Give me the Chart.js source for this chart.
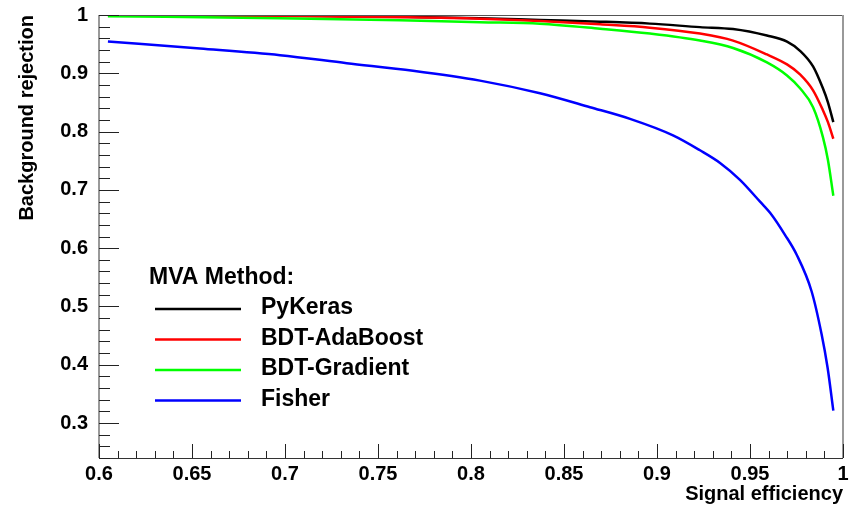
<!DOCTYPE html>
<html>
<head>
<meta charset="utf-8">
<title>ROC curves</title>
<script src="https://cdn.jsdelivr.net/npm/chart.js@4.4.1/dist/chart.umd.min.js"></script>
<style>
  html, body { margin: 0; padding: 0; background: #fff; }
  #wrap { width: 856px; height: 506px; position: relative; }
</style>
</head>
<body>
<div id="wrap"><canvas id="rocChart"></canvas></div>
<script>
// Signal efficiency points shared by the three upper curves
const rocEff = [0.6048, 0.6973, 0.7618, 0.8048, 0.8371, 0.8694, 0.8962, 0.9231, 0.9409, 0.9591, 0.9699, 0.9769, 0.9839, 0.9892, 0.9919, 0.9948];
const pyKerasRej = [0.9997, 0.9991, 0.9970, 0.9945, 0.9915, 0.9886, 0.9852, 0.9792, 0.9758, 0.9647, 0.9544, 0.9386, 0.9118, 0.8742, 0.8503, 0.8162];
const adaBoostRej = [0.9997, 0.9983, 0.9962, 0.9937, 0.9898, 0.9840, 0.9783, 0.9681, 0.9561, 0.9323, 0.9152, 0.8981, 0.8708, 0.8367, 0.8162, 0.7877];
const gradientRej = [0.9980, 0.9945, 0.9911, 0.9877, 0.9852, 0.9766, 0.9681, 0.9561, 0.9433, 0.9186, 0.8962, 0.8742, 0.8418, 0.7906, 0.7514, 0.6899];

// Fisher needs more points, it bends much earlier
const fisherEff = [0.6048, 0.6543, 0.6973, 0.7332, 0.7688, 0.8048, 0.8371, 0.8640, 0.8855, 0.9086, 0.9231, 0.9339, 0.9446, 0.9554, 0.9617, 0.9688, 0.9751, 0.9831, 0.9885, 0.9917, 0.9948];
const fisherRej = [0.9544, 0.9425, 0.9311, 0.9174, 0.9044, 0.8874, 0.8657, 0.8418, 0.8218, 0.7935, 0.7679, 0.7462, 0.7172, 0.6797, 0.6570, 0.6229, 0.5887, 0.5261, 0.4522, 0.3952, 0.3213];

const methodNames = ['PyKeras', 'BDT-AdaBoost', 'BDT-Gradient', 'Fisher'];
const methodColors = ['#000000', '#ff0000', '#00ff00', '#0000ff'];

// axis ranges and tick steps
const xRange = [0.6, 1.0];
const yRange = [0.24, 1.0];
const xMajorStep = 0.05, xMinorStep = 0.01;
const yMajorStep = 0.1, yMinorStep = 0.02;

const FONT = '"Liberation Sans", Arial, Helvetica, sans-serif';
Chart.defaults.font.family = FONT;
Chart.defaults.color = '#000';

const toPoints = (xs, ys) => xs.map((x, i) => ({ x: x, y: ys[i] }));
const trimNum = v => String(+v.toFixed(3));

// ROOT style frame: box around the pad and tick marks pointing inwards
const rootFrame = {
    id: 'rootFrame',
    afterDatasetsDraw(chart) {
        const { ctx, chartArea: a, scales: { x, y } } = chart;
        ctx.save();

        // top + right border
        ctx.strokeStyle = '#555';
        ctx.lineWidth = 1;
        ctx.beginPath();
        ctx.moveTo(a.left, a.top + 0.5);
        ctx.lineTo(a.right, a.top + 0.5);
        ctx.stroke();
        ctx.strokeStyle = '#999';
        ctx.lineWidth = 2;
        ctx.beginPath();
        ctx.moveTo(a.right, a.top);
        ctx.lineTo(a.right, a.bottom);
        ctx.stroke();

        // left axis
        ctx.strokeStyle = '#777';
        ctx.lineWidth = 1.5;
        ctx.beginPath();
        ctx.moveTo(a.left, a.top);
        ctx.lineTo(a.left, a.bottom);
        ctx.stroke();

        // bottom axis
        ctx.strokeStyle = '#333';
        ctx.lineWidth = 1;
        ctx.beginPath();
        ctx.moveTo(a.left, Math.round(a.bottom) + 0.5);
        ctx.lineTo(a.right, Math.round(a.bottom) + 0.5);
        ctx.stroke();

        ctx.strokeStyle = '#222';
        ctx.lineWidth = 1;
        const nx = Math.round((xRange[1] - xRange[0]) / xMinorStep);
        const perMajorX = Math.round(xMajorStep / xMinorStep);
        for (let i = 0; i <= nx; i++) {
            const px = Math.round(x.getPixelForValue(xRange[0] + i * xMinorStep)) + 0.5;
            const len = i % perMajorX === 0 ? 14 : 7;
            ctx.beginPath();
            ctx.moveTo(px, a.bottom);
            ctx.lineTo(px, a.bottom - len);
            ctx.stroke();
        }
        const ny = Math.round((yRange[1] - yRange[0]) / yMinorStep);
        for (let i = 0; i <= ny; i++) {
            const v = yRange[0] + i * yMinorStep;
            const py = Math.round(y.getPixelForValue(v)) + 0.5;
            const major = Math.round(v * 100) % 10 === 0;
            ctx.beginPath();
            ctx.moveTo(a.left, py);
            ctx.lineTo(a.left + (major ? 20 : 11), py);
            ctx.stroke();
        }
        ctx.restore();
    }
};

// legend box "MVA Method:" inside the pad
const methodLegend = {
    id: 'methodLegend',
    afterDraw(chart, args, opts) {
        const { ctx } = chart;
        ctx.save();
        ctx.fillStyle = '#000';
        ctx.textBaseline = 'middle';
        ctx.textAlign = 'left';
        ctx.font = 'bold 23px ' + FONT;
        ctx.fillText(opts.header, opts.left, opts.top);
        chart.data.datasets.forEach((ds, i) => {
            const rowY = opts.firstRow + i * opts.rowStep;
            ctx.strokeStyle = ds.borderColor;
            ctx.lineWidth = 2.5;
            ctx.beginPath();
            ctx.moveTo(opts.lineFrom, rowY);
            ctx.lineTo(opts.lineTo, rowY);
            ctx.stroke();
            ctx.fillText(ds.label, opts.textX, rowY - 1);
        });
        ctx.restore();
    }
};

const seriesRej = [pyKerasRej, adaBoostRej, gradientRej, fisherRej];
const seriesEff = [rocEff, rocEff, rocEff, fisherEff];

new Chart(document.getElementById('rocChart'), {
    type: 'line',
    data: {
        datasets: methodNames.map((name, i) => ({
            label: name,
            data: toPoints(seriesEff[i], seriesRej[i]),
            borderColor: methodColors[i],
            borderWidth: 2.5,
            pointRadius: 0,
            cubicInterpolationMode: 'monotone',
            order: methodNames.length - i
        }))
    },
    options: {
        responsive: true,
        maintainAspectRatio: false,
        animation: false,
        events: [],
        layout: { padding: { top: 2, right: 13, left: 0, bottom: 0 } },
        plugins: {
            legend: { display: false },
            tooltip: { enabled: false },
            methodLegend: {
                header: 'MVA Method:', left: 149, top: 278,
                firstRow: 309, rowStep: 30.5,
                lineFrom: 155, lineTo: 241, textX: 261
            }
        },
        scales: {
            x: {
                type: 'linear',
                min: xRange[0], max: xRange[1],
                grid: { display: false },
                border: { display: false },
                ticks: {
                    stepSize: xMajorStep,
                    padding: -4,
                    font: { size: 20, weight: 'bold' },
                    color: '#000',
                    callback: v => trimNum(v)
                },
                title: {
                    display: true,
                    text: 'Signal efficiency',
                    align: 'end',
                    font: { size: 20, weight: 'bold' },
                    color: '#000',
                    padding: { top: 0, bottom: 0 }
                },
                afterFit: s => { s.height = 48; }
            },
            y: {
                type: 'linear',
                min: yRange[0], max: yRange[1],
                grid: { display: false },
                border: { display: false },
                afterBuildTicks: s => {
                    s.ticks = s.ticks.filter(t => Math.abs(t.value / yMajorStep - Math.round(t.value / yMajorStep)) < 1e-6);
                },
                ticks: {
                    stepSize: yMajorStep,
                    padding: 3,
                    font: { size: 20, weight: 'bold' },
                    color: '#000',
                    callback: v => trimNum(v)
                },
                title: {
                    display: true,
                    text: 'Background rejection',
                    align: 'end',
                    font: { size: 20, weight: 'bold' },
                    color: '#000',
                    padding: { top: 15, bottom: 0 }
                },
                afterFit: s => { s.width = 99; }
            }
        }
    },
    plugins: [rootFrame, methodLegend]
});
</script>
</body>
</html>
